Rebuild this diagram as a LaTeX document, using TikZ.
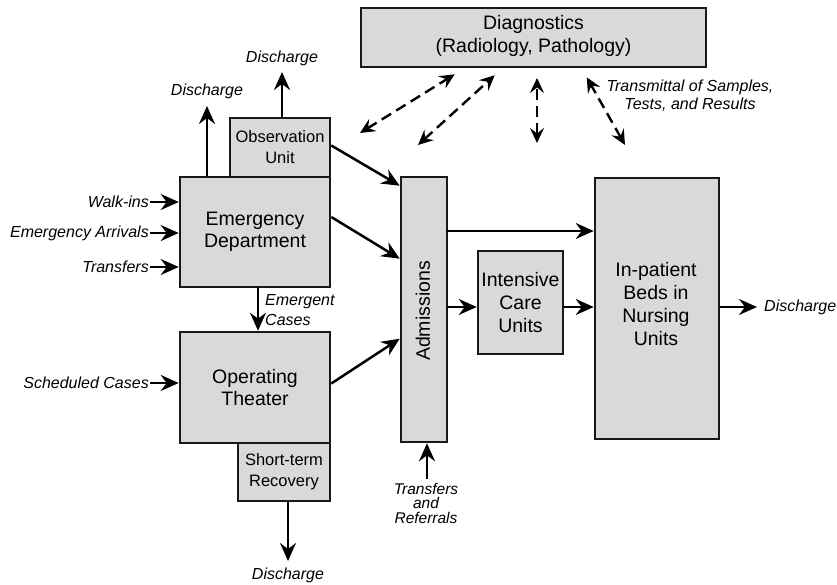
\documentclass[tikz,border=0pt]{standalone}
\usepackage{fontspec}
\setmainfont{Liberation Sans}
\usetikzlibrary{arrows.meta,calc}
\definecolor{boxgray}{HTML}{D9D9D9}
\begin{document}
\begin{tikzpicture}[x=1pt,y=-1pt,
  box/.style={draw=black!90,line width=2.6pt,fill=boxgray,inner sep=0pt,align=center,
    font=\fontsize{19.5}{22}\selectfont},
  smallbox/.style={box,font=\fontsize{16.5}{21}\selectfont},
  lab/.style={inner sep=1pt,font=\fontsize{16}{19}\selectfont\itshape,align=center},
  arr/.style={line width=2.5pt,-{Stealth[length=18pt,width=16pt,inset=6pt]}},
  darr/.style={line width=2.4pt,dash pattern=on 11pt off 6pt,
    {Stealth[length=15pt,width=14pt,inset=5.5pt]}-{Stealth[length=15pt,width=14pt,inset=5.5pt]}}
]
\useasboundingbox (0,0) rectangle (837,585);

% boxes
\node[box,minimum width=345pt,minimum height=59pt] (diag) at (533.5,37.5) {};
\node[font=\fontsize{19.5}{23}\selectfont,align=center] at (533.5,36) {Diagnostics\\(Radiology, Pathology)};

\node[smallbox,minimum width=100pt,minimum height=59pt] (obs) at (280,147.5) {Observation\\Unit};
\node[box,minimum width=150pt,minimum height=110pt] (ed) at (255,232) {Emergency\\Department};
\node[box,minimum width=150pt,minimum height=111pt] (ot) at (255,387.5) {Operating\\Theater};
\node[smallbox,minimum width=92pt,minimum height=58pt] (sr) at (284,472) {Short-term\\Recovery};
\node[box,minimum width=46pt,minimum height=265pt] (adm) at (424,309.5) {};
\node[font=\fontsize{19.5}{22}\selectfont,rotate=90] at (423,311) {Admissions};
\node[box,minimum width=85pt,minimum height=103pt,font=\fontsize{19.5}{23}\selectfont] (icu) at (520.5,302.5) {Intensive\\Care\\Units};
\node[box,minimum width=124pt,minimum height=261pt] (inp) at (657,308.5) {};
\node[font=\fontsize{19.5}{23.3}\selectfont,align=center] at (656,304) {In-patient\\Beds in\\Nursing\\Units};

% input labels
\node[lab,anchor=east] (wi) at (150,202) {Walk-ins};
\node[lab,anchor=east] (ea) at (150,233) {Emergency Arrivals};
\node[lab,anchor=east] (tr) at (150,267) {Transfers};
\node[lab,anchor=east] (sc) at (150,383) {Scheduled Cases};
\draw[arr] (wi.east) -- (wi.east -| ed.west);
\draw[arr] (ea.east) -- (ea.east -| ed.west);
\draw[arr] (tr.east) -- (tr.east -| ed.west);
\draw[arr] (sc.east) -- (sc.east -| ot.west);

% discharges on top
\coordinate (d1) at (207,106);
\coordinate (d2) at (282,72);
\node[lab] (d1l) at (207,91) {Discharge};
\node[lab] (d2l) at (282,58) {Discharge};
\draw[arr] (d1 |- ed.north) -- (d1);
\draw[arr] (d2 |- obs.north) -- (d2);

% ED -> OT
\coordinate (em1) at (258,287);
\draw[arr] (em1) -- (em1 |- ot.north);
\node[lab,anchor=west,align=left,font=\fontsize{16}{20}\selectfont\itshape] (emc) at (264,310) {Emergent\\Cases};

% SR -> discharge
\coordinate (d3) at (288,561);
\draw[arr] (d3 |- sr.south) -- (d3);
\node[lab] (d3l) at (288,575) {Discharge};

% to admissions
\draw[arr] ($(obs.east)+(0,-2)$) -- ($(adm.north west)+(0,10)$);
\draw[arr] ($(ed.east)+(0,-15)$) -- ($(adm.north west)+(0,83)$);
\draw[arr] ($(ot.east)+(0,-4)$) -- ($(adm.north west)+(0,163)$);

% transfers and referrals
\coordinate (tf) at (427,479);
\draw[arr] (tf) -- (tf |- adm.south);
\node[lab,font=\fontsize{15.5}{14.5}\selectfont\itshape] (tfl) at (426,503) {Transfers\\and\\Referrals};

% admissions to right
\coordinate (a1) at (447,231);
\coordinate (a2) at (447,307);
\coordinate (i1) at (563,307);
\draw[arr] (a1) -- (a1 -| inp.west);
\draw[arr] (a2) -- (a2 -| icu.west);
\draw[arr] (i1) -- (i1 -| inp.west);
\coordinate (d4) at (757,307);
\draw[arr] (d4 -| inp.east) -- (d4);
\node[lab,anchor=west] (d4l) at (763,307) {Discharge};

% diagnostics dashed
\coordinate (q1) at (360,133);
\coordinate (q2) at (418,145);
\coordinate (q3) at (537,143);
\coordinate (q4) at (625,145);
\coordinate (q3t) at (537,78);
\draw[darr] (q1) -- ($(diag.south west)+(95,6)$);
\draw[darr] (q2) -- ($(diag.south west)+(135,7)$);
\draw[darr] (q3) -- (q3t);
\draw[darr] (q4) -- ($(diag.south west)+(227,9)$);
\node[lab,font=\fontsize{16}{18}\selectfont\itshape] (tl) at (690,96) {Transmittal of Samples,\\Tests, and Results};
\end{tikzpicture}
\end{document}
